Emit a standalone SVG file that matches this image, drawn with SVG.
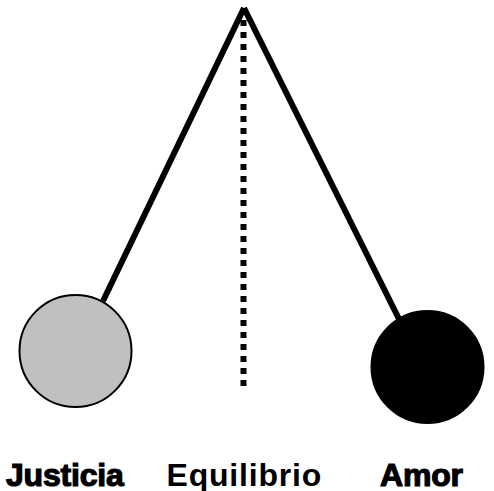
<svg xmlns="http://www.w3.org/2000/svg" width="494" height="491" viewBox="0 0 494 491">
<style>
.arm{fill:none;stroke:#000;stroke-width:6}
.axis{fill:none;stroke:#000;stroke-width:6;stroke-dasharray:6 6}
.ball{stroke:#000;stroke-width:2}
text{font-family:"Liberation Sans",Arial,sans-serif;font-size:32px;fill:#000;font-weight:bold}
.heavy{stroke:#000;stroke-width:1.200;letter-spacing:-0.200px}
</style>
<rect width="494" height="491" fill="#fff"/>
<g id="connectors">
<path class="axis" d="M243.500 386V14"/>
<path class="arm" d="M244 8L103 301"/>
<path class="arm" d="M244 8L399 319"/>
</g>
<g id="justicia"><circle class="ball" cx="75.500" cy="351" r="56" fill="#c0c0c0"/><text class="heavy" x="6" y="485.500">Justicia</text></g>
<g id="equilibrio"><text x="166.500" y="485.500" letter-spacing="0.800">Equilibrio</text></g>
<g id="amor"><circle class="ball" cx="427.500" cy="367" r="56" fill="#000"/><text class="heavy" x="380" y="485.500">Amor</text></g>
</svg>
